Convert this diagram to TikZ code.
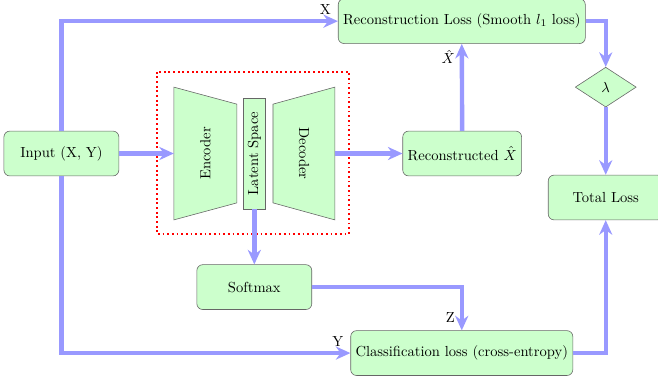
\documentclass[tikz,border=0pt]{standalone}
\usepackage{amsmath,amssymb}
\usepackage{tikz}
\usetikzlibrary{arrows.meta,positioning,shapes.geometric}

\begin{document}
\begin{tikzpicture}[
  block/.style={rectangle, draw=black!60, fill=green!20, rounded corners=4pt,
                minimum width=2.77cm, minimum height=1.08cm},
  coder/.style={draw=black!60, fill=green!20},
  latent/.style={rectangle, draw=black!60, fill=green!20, rotate=90,
                 minimum width=2.67cm, minimum height=0.55cm, inner sep=2pt},
  gate/.style={diamond, draw=black!60, fill=green!20, aspect=1.5,
               minimum width=1.47cm, minimum height=0.96cm, inner sep=1pt},
  flow/.style={draw=blue!40, line width=3pt, -{Stealth[length=10pt,width=9pt]}},
  >=Stealth
]
\useasboundingbox (0,0) rectangle (15.86,-9.18);

% Autoencoder
\draw[coder] (4.19,-2.10) -- (5.71,-2.51) -- (5.71,-4.89) -- (4.19,-5.30) -- cycle;
\draw[coder] (6.58,-2.51) -- (8.07,-2.10) -- (8.07,-5.30) -- (6.58,-4.89) -- cycle;
\node[rotate=90]  (enc) at (4.95,-3.70) {Encoder};
\node[rotate=-90] (dec) at (7.33,-3.70) {Decoder};
\coordinate (encin)  at (4.19,-3.70);
\coordinate (decout) at (8.07,-3.70);
\node[latent] (lat) at (6.13,-3.70) {Latent Space};
\draw[draw=red, line width=1.2pt, dotted] (3.78,-1.73) rectangle (8.41,-5.64);

% Blocks
\node[block] (in)   at (1.48,-3.70)  {Input (X, Y)};
\node[block] (rec)  at (11.14,-3.70) {Reconstructed $\hat{X}$};
\node[block] (rl)   at (11.13,-0.51) {Reconstruction Loss (Smooth $l_1$ loss)};
\node[gate]  (lam)  at (14.60,-2.10) {$\lambda$};
\node[block] (tot)  at (14.60,-4.76) {Total Loss};
\node[block] (soft) at (6.13,-6.92)  {Softmax};
\node[block] (cls)  at (11.13,-8.51) {Classification loss (cross-entropy)};

% Flows
\draw[flow] (in.east) -- (encin);
\draw[flow] (in.north) |- node[above left, pos=1, text=black]{X} (rl.west);
\draw[flow] (in.south) |- node[above left, pos=1, text=black]{Y} (cls.west);
\draw[flow] (decout) -- (rec.west);
\draw[flow] (rec.north) -- node[left, pos=0.85, text=black]{$\hat{X}$} (rl.south);
\draw[flow] (lat.west) -- (soft.north);
\draw[flow] (soft.east) -| node[left, pos=0.85, text=black]{Z} (cls.north);
\draw[flow] (rl.east) -| (lam.north);
\draw[flow] (lam.south) -- (tot.north);
\draw[flow] (cls.east) -| (tot.south);
\end{tikzpicture}
\end{document}
